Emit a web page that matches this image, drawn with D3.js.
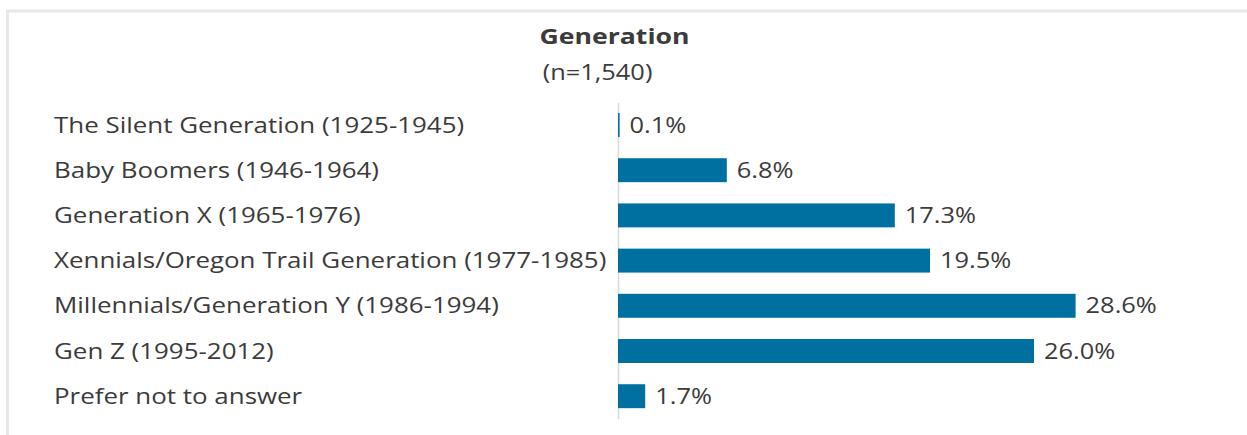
<!DOCTYPE html>
<html>
<head>
<meta charset="utf-8">
<script src="https://cdn.jsdelivr.net/npm/d3@7"></script>
<style>
  body { margin: 0; background: #fff; }
  text { font-family: "Open Sans", sans-serif; fill: #3b3b3b; }
</style>
</head>
<body>
<div id="container"></div>
<script>
/* DATA */
const categories = [
  "The Silent Generation (1925-1945)",
  "Baby Boomers (1946-1964)",
  "Generation X (1965-1976)",
  "Xennials/Oregon Trail Generation (1977-1985)",
  "Millennials/Generation Y (1986-1994)",
  "Gen Z (1995-2012)",
  "Prefer not to answer"
];
const percents = [0.1, 6.8, 17.3, 19.5, 28.6, 26.0, 1.7];
const titleText = "Generation";
const subtitleText = "(n=1,540)";

/* CONSTANTS */
const width = 1247,
      height = 435,
      labelX = 54,
      stretch = 1.21, // original text is wider than Open Sans, so stretch it a bit
      labelStretch = 1.235,
      barColor = "#0070a0";

const data = categories.map((c, i) => ({ name: c, value: percents[i] }));

const svg = d3.select("#container")
  .append("svg")
  .attr("width", width)
  .attr("height", height);

// light frame lines at top and left
svg.append("line")
  .attr("x1", 6).attr("x2", width)
  .attr("y1", 11).attr("y2", 11)
  .attr("stroke", "#e8e8e8").attr("stroke-width", 3);
svg.append("line")
  .attr("x1", 7.5).attr("x2", 7.5)
  .attr("y1", 10).attr("y2", height)
  .attr("stroke", "#e8e8e8").attr("stroke-width", 3);

// scales
const xScale = d3.scaleLinear()
  .domain([0, 30])
  .range([618, 1098]);

const yScale = d3.scaleBand()
  .domain(categories)
  .range([102.4, 418.8])
  .paddingInner(0.47)
  .paddingOuter(0.235);

const midY = name => yScale(name) + yScale.bandwidth() / 2;

// titles
svg.append("text")
  .attr("transform", `translate(614.5,44) scale(${stretch},1)`)
  .attr("text-anchor", "middle")
  .style("font-size", "22px")
  .style("font-weight", "bold")
  .text(titleText);

svg.append("text")
  .attr("transform", `translate(597.5,80) scale(${stretch},1)`)
  .attr("text-anchor", "middle")
  .style("font-size", "21px")
  .text(subtitleText);

// vertical axis line only
svg.append("g")
  .attr("transform", `translate(${xScale(0)},0)`)
  .call(d3.axisLeft(yScale).tickSize(0).tickFormat(""))
  .call(g => g.select(".domain").attr("stroke", "#d9d9d9").attr("stroke-width", 1.5));

// category labels (left aligned)
svg.selectAll(".cat-label")
  .data(data)
  .join("text")
  .attr("class", "cat-label")
  .attr("transform", d => `translate(${labelX},${midY(d.name)}) scale(${labelStretch},1)`)
  .attr("dy", "0.36em")
  .style("font-size", "21px")
  .text(d => d.name);

// bars
svg.selectAll(".bar")
  .data(data)
  .join("rect")
  .attr("class", "bar")
  .attr("x", xScale(0))
  .attr("y", d => yScale(d.name))
  .attr("width", d => xScale(d.value) - xScale(0))
  .attr("height", yScale.bandwidth())
  .attr("fill", barColor);

// value labels
svg.selectAll(".val-label")
  .data(data)
  .join("text")
  .attr("class", "val-label")
  .attr("transform", d => `translate(${xScale(d.value) + 10},${midY(d.name)}) scale(${stretch},1)`)
  .attr("dy", "0.36em")
  .style("font-size", "21px")
  .text(d => d.value.toFixed(1) + "%");
</script>
</body>
</html>
